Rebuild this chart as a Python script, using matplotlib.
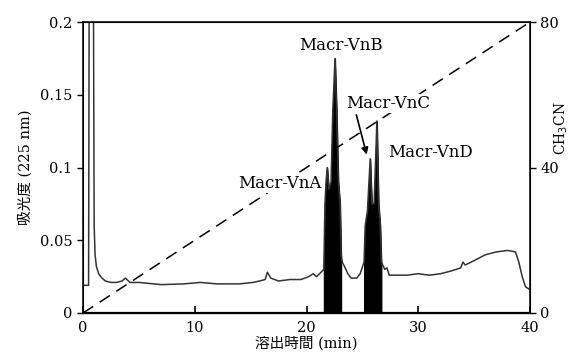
import numpy as np
import matplotlib
matplotlib.use("Agg")
import matplotlib.pyplot as plt

# chromatogram trace (time in min, absorbance at 225 nm)
time = [0, 0.5, 0.56, 0.92, 1.0, 1.08, 1.2, 1.4, 1.7, 2.0, 2.5, 3.0, 3.5, 3.8, 4.2,
        5.0, 7.0, 9.0, 10.5, 12.0, 14.0, 15.2, 15.8, 16.3, 16.5, 16.8, 17.5, 18.5,
        19.5, 20.2, 20.6, 20.9, 21.3,
        21.55, 21.65, 21.75, 21.85, 22.0, 22.2, 22.35, 22.55, 22.7, 22.85, 23.0, 23.1, 23.2,
        23.4, 23.7, 24.0, 24.5, 24.8,
        25.15, 25.25, 25.45, 25.7, 25.85, 26.05, 26.3, 26.45, 26.6, 26.7,
        27.0, 27.2, 27.4, 28.0, 29.0, 30.0, 31.0, 32.0, 33.0, 33.8, 34.0, 34.2,
        35.0, 36.0, 37.0, 38.0, 38.7, 39.0, 39.3, 39.6, 40.0]
absorb = [0.019, 0.019, 0.25, 0.25, 0.06, 0.04, 0.032, 0.027, 0.024, 0.022, 0.021, 0.021, 0.022, 0.024, 0.021,
          0.021, 0.0195, 0.020, 0.021, 0.020, 0.020, 0.021, 0.022, 0.023, 0.028, 0.024, 0.022, 0.023,
          0.023, 0.025, 0.027, 0.025, 0.028,
          0.03, 0.075, 0.09, 0.10, 0.085, 0.09, 0.138, 0.175, 0.138, 0.09, 0.075, 0.04, 0.035,
          0.032, 0.027, 0.024, 0.024, 0.027,
          0.035, 0.06, 0.07, 0.106, 0.075, 0.075, 0.132, 0.075, 0.06, 0.035,
          0.030, 0.031, 0.026, 0.026, 0.026, 0.027, 0.026, 0.027, 0.029, 0.031, 0.035, 0.033,
          0.036, 0.040, 0.042, 0.043, 0.042, 0.035, 0.025, 0.018, 0.016]

# acetonitrile gradient
grad_time = [0, 40]
grad_pct = [0, 80]

peak_ranges = [(21.55, 23.15), (25.1, 26.7)]

# peak labels: (text, time, absorbance)
labels = [('Macr-VnB', 23.1, 0.184),
          ('Macr-VnA', 17.6, 0.089),
          ('Macr-VnC', 27.3, 0.144),
          ('Macr-VnD', 31.1, 0.110)]

serif = ['DejaVu Serif', 'Noto Sans CJK JP']

fig = plt.figure(figsize=(5.73, 3.61), dpi=100)
ax = fig.add_axes([83/573, 48/361, 447/573, 291/361])

t = np.array(time)
a = np.array(absorb)
ax.plot(t, a, color='#333333', lw=1.1)
for lo, hi in peak_ranges:
    m = (t >= lo) & (t <= hi)
    ax.fill_between(t[m], 0, a[m], color='black', lw=0.8)

ax.set_xlim(0, 40)
ax.set_ylim(0, 0.2)
ax.set_xticks([0, 10, 20, 30, 40])
ax.set_yticks([0, 0.05, 0.1, 0.15, 0.2])
ax.set_yticklabels(['0', '0.05', '0.1', '0.15', '0.2'])
ax.tick_params(axis='x', direction='in', length=5, width=1.2, labelsize=10.5, pad=6)
ax.tick_params(axis='y', direction='out', length=4, width=1, labelsize=10.5)
for lab in ax.get_xticklabels() + ax.get_yticklabels():
    lab.set_family(serif)
for s in ax.spines.values():
    s.set_linewidth(1.1)
ax.spines['bottom'].set_linewidth(1.6)

ax.set_xlabel('溶出時間 (min)', family=serif, fontsize=10.5, labelpad=1)
ax.set_ylabel('吸光度 (225 nm)', family=serif, fontsize=10.5, labelpad=5)

ax2 = ax.twinx()
ax2.plot(grad_time, grad_pct, color='black', lw=1.1, ls=(0, (8, 5)))
ax2.set_ylim(0, 80)
ax2.set_yticks([0, 40, 80])
ax2.tick_params(axis='y', direction='out', length=4, width=1, labelsize=10.5)
for lab in ax2.get_yticklabels():
    lab.set_family(serif)

fig.text(553/573, 1 - 128/361, 'CH$_3$CN', rotation=90, ha='left', va='center',
         family=serif, fontsize=10)

# labels go on the top axes so they sit over the dashed gradient line
k = 80 / 0.2
for txt, x, y in labels:
    ax2.text(x, y * k, txt, ha='center', va='center', family=serif, fontsize=12,
             bbox=dict(facecolor='white', edgecolor='none', pad=1))
ax2.annotate('', xy=(25.45, 0.107 * k), xytext=(24.4, 0.138 * k),
             arrowprops=dict(arrowstyle='-|>', color='black', lw=1.2, mutation_scale=10))

fig.savefig('out.png', dpi=100)
